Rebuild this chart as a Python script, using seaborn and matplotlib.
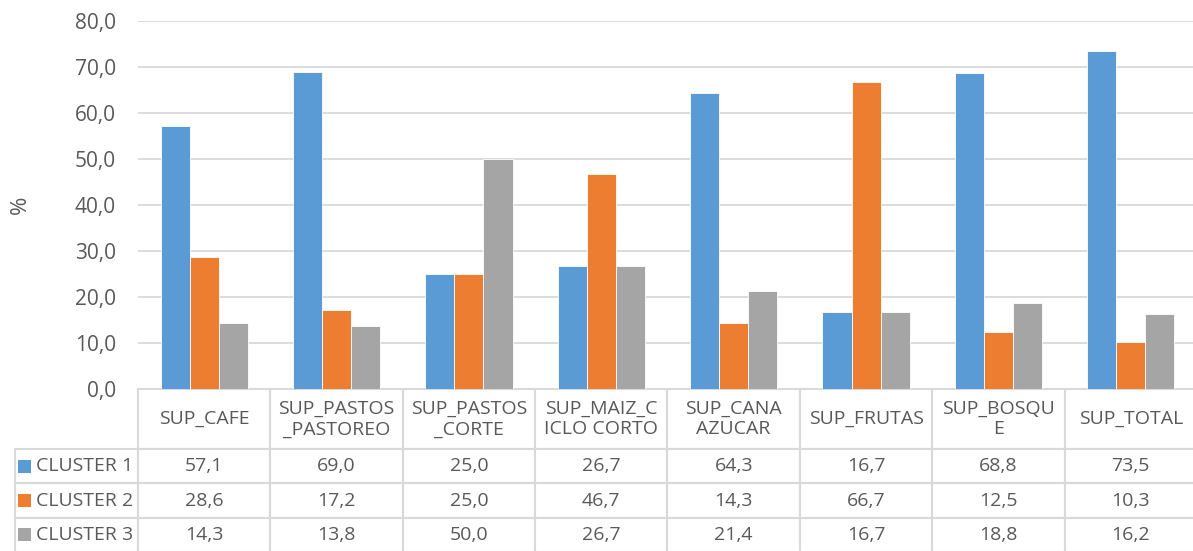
import numpy as np
import pandas as pd
import matplotlib
matplotlib.use("Agg")
import matplotlib.pyplot as plt
import seaborn as sns
from matplotlib.patches import Rectangle
from matplotlib.ticker import FuncFormatter

# data
categories = ["SUP_CAFE", "SUP_PASTOS_PASTOREO", "SUP_PASTOS_CORTE", "SUP_MAIZ_CICLO CORTO",
              "SUP_CANA AZUCAR", "SUP_FRUTAS", "SUP_BOSQUE", "SUP_TOTAL"]
header_labels = ["SUP_CAFE", "SUP_PASTOS\n_PASTOREO", "SUP_PASTOS\n_CORTE", "SUP_MAIZ_C\nICLO CORTO",
                 "SUP_CANA\nAZUCAR", "SUP_FRUTAS", "SUP_BOSQU\nE", "SUP_TOTAL"]
clusters = ["CLUSTER 1", "CLUSTER 2", "CLUSTER 3"]
cluster1 = [57.1, 69.0, 25.0, 26.7, 64.3, 16.7, 68.8, 73.5]
cluster2 = [28.6, 17.2, 25.0, 46.7, 14.3, 66.7, 12.5, 10.3]
cluster3 = [14.3, 13.8, 50.0, 26.7, 21.4, 16.7, 18.8, 16.2]
colors = ["#5B9BD5", "#ED7D31", "#A5A5A5"]

df = pd.DataFrame({
    "categoria": categories * 3,
    "cluster": np.repeat(clusters, len(categories)),
    "valor": cluster1 + cluster2 + cluster3,
})

sns.set_style("white")
plt.rcParams["font.family"] = ["Open Sans", "DejaVu Sans"]
text_col = "#595959"
grid_col = "#D9D9D9"

W, H = 1193, 551
fig = plt.figure(figsize=(W / 100, H / 100), dpi=100)
ax_l, ax_r, ax_t, ax_b = 138, 1197, 21, 389
ax = fig.add_axes([ax_l / W, 1 - ax_b / H, (ax_r - ax_l) / W, (ax_b - ax_t) / H])

sns.barplot(data=df, x="categoria", y="valor", hue="cluster", order=categories,
            hue_order=clusters, palette=colors, saturation=1, width=0.66, gap=0,
            edgecolor="white", linewidth=0.6, legend=False, ax=ax)

ax.set_ylim(0, 80)
ax.set_yticks(np.arange(0, 81, 10))
ax.yaxis.set_major_formatter(FuncFormatter(lambda v, p: f"{v:.1f}".replace(".", ",")))
ax.tick_params(axis="y", length=0, pad=16, labelsize=15, labelcolor=text_col)
ax.tick_params(axis="x", length=0, labelbottom=False)
ax.set_xlabel("")
ax.set_ylabel("%", fontsize=16, color=text_col, va="center")
ax.yaxis.set_label_coords((20 - ax_l) / (ax_r - ax_l), 0.5)
ax.yaxis.grid(True, color=grid_col, linewidth=1.3)
ax.set_axisbelow(True)
for s in ax.spines.values():
    s.set_visible(False)

# data table under the bars
cells = [[""] + header_labels]
for name, vals in zip(clusters, [cluster1, cluster2, cluster3]):
    cells.append([name] + [f"{v:.1f}".replace(".", ",") for v in vals])

tab_left, tab_bottom = 15, 552
axw, axh = ax_r - ax_l, ax_b - ax_t
tbl = ax.table(cellText=cells, cellLoc="center",
               bbox=[(tab_left - ax_l) / axw, -(tab_bottom - ax_b) / axh,
                     (ax_r - tab_left) / axw, (tab_bottom - ax_b) / axh])
tbl.auto_set_font_size(False)
row_h = [60, 34.3, 34.3, 34.3]
for (r, c), cell in tbl.get_celld().items():
    cell.set_width(123 if c == 0 else 132.4)
    cell.set_height(row_h[r])
    cell.set_edgecolor(grid_col)
    cell.set_linewidth(1.5)
    cell.get_text().set_fontsize(14)
    cell.get_text().set_color(text_col)
    cell.get_text().set_linespacing(1.2)
    if r == 0 and c == 0:
        cell.visible_edges = ""
    if c == 0 and r > 0:
        cell._loc = "left"
        cell.PAD = 0.17
        cell.get_text().set_horizontalalignment("left")

# legend keys inside the row label cells
row_tops = [449, 483.3, 517.6]
for top, col in zip(row_tops, colors):
    fig.patches.append(Rectangle((18 / W, 1 - (top + 17 + 6.5) / H), 13 / W, 13 / H,
                                 transform=fig.transFigure, facecolor=col, edgecolor="none"))

fig.savefig("out.png", dpi=100)
